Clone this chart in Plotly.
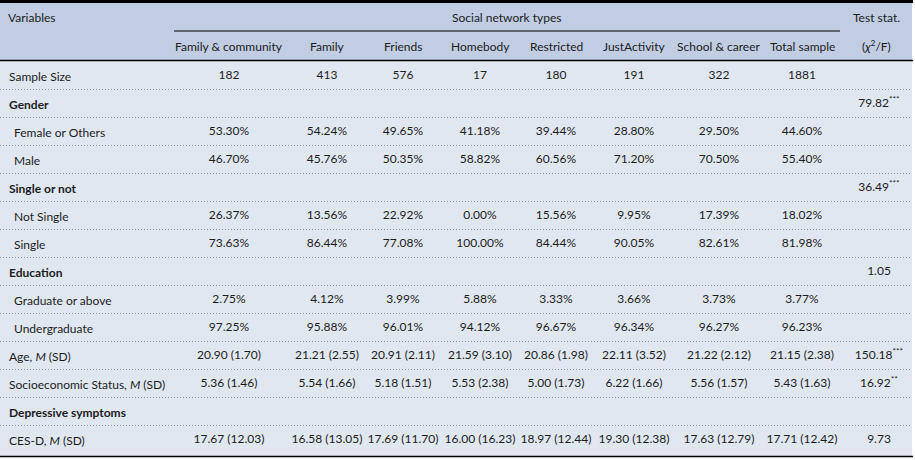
import plotly.graph_objects as go

# table content
variables = [
    "Sample Size", "Gender", "Female or Others", "Male", "Single or not",
    "Not Single", "Single", "Education", "Graduate or above", "Undergraduate",
    "Age, <i>M</i> (SD)", "Socioeconomic Status, <i>M</i> (SD)",
    "Depressive symptoms", "CES-D, <i>M</i> (SD)",
]
section_rows = [1, 4, 7, 12]
indented_rows = [2, 3, 5, 6, 8, 9]

groups = ["Family & community", "Family", "Friends", "Homebody", "Restricted",
          "JustActivity", "School & career", "Total sample"]

fam_comm = ["182", "", "53.30%", "46.70%", "", "26.37%", "73.63%", "", "2.75%", "97.25%",
            "20.90 (1.70)", "5.36 (1.46)", "", "17.67 (12.03)"]
family = ["413", "", "54.24%", "45.76%", "", "13.56%", "86.44%", "", "4.12%", "95.88%",
          "21.21 (2.55)", "5.54 (1.66)", "", "16.58 (13.05)"]
friends = ["576", "", "49.65%", "50.35%", "", "22.92%", "77.08%", "", "3.99%", "96.01%",
           "20.91 (2.11)", "5.18 (1.51)", "", "17.69 (11.70)"]
homebody = ["17", "", "41.18%", "58.82%", "", "0.00%", "100.00%", "", "5.88%", "94.12%",
            "21.59 (3.10)", "5.53 (2.38)", "", "16.00 (16.23)"]
restricted = ["180", "", "39.44%", "60.56%", "", "15.56%", "84.44%", "", "3.33%", "96.67%",
              "20.86 (1.98)", "5.00 (1.73)", "", "18.97 (12.44)"]
just_activity = ["191", "", "28.80%", "71.20%", "", "9.95%", "90.05%", "", "3.66%", "96.34%",
                 "22.11 (3.52)", "6.22 (1.66)", "", "19.30 (12.38)"]
school_career = ["322", "", "29.50%", "70.50%", "", "17.39%", "82.61%", "", "3.73%", "96.27%",
                 "21.22 (2.12)", "5.56 (1.57)", "", "17.63 (12.79)"]
total = ["1881", "", "44.60%", "55.40%", "", "18.02%", "81.98%", "", "3.77%", "96.23%",
         "21.15 (2.38)", "5.43 (1.63)", "", "17.71 (12.42)"]
test_stat = ["", "79.82<sup>***</sup>", "", "", "36.49<sup>***</sup>", "", "", "1.05", "", "",
             "150.18<sup>***</sup>", "16.92<sup>**</sup>", "", "9.73"]

columns = [fam_comm, family, friends, homebody, restricted, just_activity, school_career, total]

# layout in pixel units
W, H = 915, 460
R = 912
col_x = [229, 327, 403, 480, 556, 634, 719, 802]
stat_x = 879
row_y0, row_h = 76, 28
row_y = [row_y0 + row_h * i for i in range(len(variables))]
FONT = "Lato"
FS = 12
TXT = "#1c1c1c"

fig = go.Figure()

for x, vals in zip(col_x, columns):
    fig.add_trace(go.Scatter(x=[x] * len(vals), y=row_y, text=vals, mode="text",
                             textposition="middle center",
                             textfont=dict(family=FONT, size=FS, color=TXT),
                             hoverinfo="skip", showlegend=False))

fig.add_trace(go.Scatter(x=[stat_x] * len(test_stat), y=row_y, text=test_stat, mode="text",
                         textposition="middle center",
                         textfont=dict(family=FONT, size=FS, color=TXT),
                         hoverinfo="skip", showlegend=False))

# row labels
for i, (lab, y) in enumerate(zip(variables, row_y)):
    if i in section_rows:
        txt, x = "<b>" + lab + "</b>", 7
    elif i in indented_rows:
        txt, x = lab, 12
    else:
        txt, x = lab, 7
    fig.add_annotation(x=x, y=y, text=txt, xanchor="left", yanchor="middle", showarrow=False,
                       font=dict(family=FONT, size=FS, color=TXT))

# header
fig.add_annotation(x=6, y=17, text="Variables", xanchor="left", showarrow=False,
                   font=dict(family=FONT, size=FS, color=TXT))
fig.add_annotation(x=506, y=17, text="Social network types", showarrow=False,
                   font=dict(family=FONT, size=FS, color=TXT))
fig.add_annotation(x=876, y=17, text="Test stat.", showarrow=False,
                   font=dict(family=FONT, size=FS, color=TXT))
fig.add_annotation(x=876, y=46, text="(<i>χ</i><sup>2</sup>/F)", showarrow=False,
                   font=dict(family=FONT, size=FS, color=TXT))
for x, g in zip(col_x, groups):
    fig.add_annotation(x=x, y=46, text=g, showarrow=False,
                       font=dict(family=FONT, size=FS, color=TXT))

shapes = [
    dict(type="rect", x0=0, x1=R, y0=2, y1=60, fillcolor="#c0cde3", line_width=0, layer="below"),
    dict(type="rect", x0=0, x1=R, y0=60, y1=456, fillcolor="#e1e7f1", line_width=0, layer="below"),
    dict(type="line", x0=0, x1=R + 1, y0=1.5, y1=1.5, line=dict(color="black", width=3)),
    dict(type="line", x0=174, x1=840, y0=31, y1=31, line=dict(color="black", width=1)),
    dict(type="line", x0=0, x1=R + 1, y0=60.5, y1=60.5, line=dict(color="black", width=1.5)),
    dict(type="line", x0=0, x1=R + 1, y0=456.5, y1=456.5, line=dict(color="black", width=1.5)),
]
for y in row_y[:-1]:
    shapes.append(dict(type="line", x0=0, x1=R, y0=y + row_h / 2 - 0.5, y1=y + row_h / 2 - 0.5,
                       line=dict(color="#8e95a3", width=1, dash="1px,2px")))

fig.update_layout(
    width=W, height=H,
    margin=dict(l=0, r=0, t=0, b=0),
    paper_bgcolor="white", plot_bgcolor="white",
    xaxis=dict(range=[0, W], visible=False, fixedrange=True),
    yaxis=dict(range=[H, 0], visible=False, fixedrange=True),
    shapes=shapes,
)

fig.write_html("out.html", config={"displayModeBar": False},
               post_script="document.body.style.margin='0';document.body.style.overflow='hidden';")
